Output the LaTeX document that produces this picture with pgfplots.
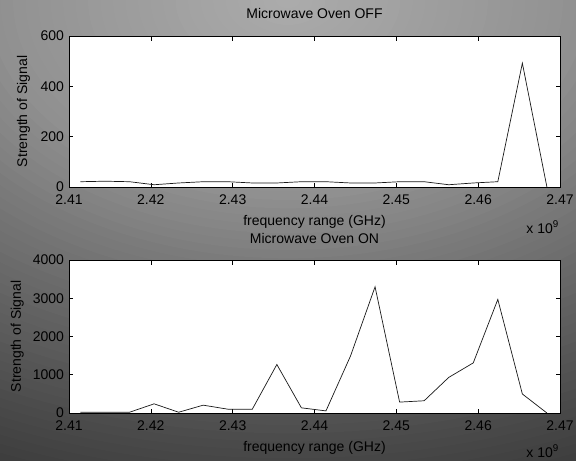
\documentclass[border=0pt]{standalone}
\usepackage{pgfplots}
\pgfplotsset{compat=1.18}
\usepackage{fontspec}
\setmainfont{Liberation Sans}
\newcommand{\lblfont}{\fontsize{14bp}{16bp}\selectfont}
\pgfplotsset{
  mystyle/.style={
    scale only axis,
    xmin=2.41, xmax=2.47,
    xtick={2.41,2.42,2.43,2.44,2.45,2.46,2.47},
    xticklabels={2.41,2.42,2.43,2.44,2.45,2.46,2.47},
    tick align=inside,
    major tick length=4.5bp,
    tick style={black, line width=0.6bp},
    axis line style={black, line width=0.9bp},
    axis background/.style={fill=white},
    ticklabel style={font=\lblfont},
    /pgf/number format/1000 sep={},
    /pgf/number format/assume math mode=true,
    scaled y ticks=false,
    xticklabel style={yshift=-4.5bp},
    yticklabel style={xshift=-1.5bp},
    label style={font=\lblfont},
    title style={font=\lblfont, at={(axis description cs:0.5,1)}, anchor=base},
    xlabel style={at={(axis description cs:0.5,0)}, anchor=base, yshift=-38bp},
    ylabel style={anchor=base},
    xlabel={frequency range (GHz)},
    ylabel={Strength of Signal},
    clip mode=individual,
  }
}
\begin{document}
\begin{tikzpicture}
\path[use as bounding box] (0bp,0bp) rectangle (576bp,-461bp);
\begin{scope}
\clip (0bp,0bp) rectangle (576bp,-461bp);
\fill[black!76] (0bp,0bp) rectangle (576bp,-461bp);
\foreach \i in {66,65,...,1}{
  \pgfmathsetmacro{\t}{\i/60}
  \pgfmathsetmacro{\g}{\t<0.39 ? 172-27*\t/0.39 : (\t<0.57 ? 145-27*(\t-0.39)/0.18 : (\t<0.93 ? 118-48*(\t-0.57)/0.36 : (\t<1 ? 70-8*(\t-0.93)/0.07 : 62)))}
  \pgfmathsetmacro{\gg}{\g/255}
  \definecolor{tmpbg}{gray}{\gg}
  \fill[tmpbg] (288bp,0bp) ellipse [x radius=\t*750bp, y radius=\t*500bp];
}
\end{scope}

\begin{axis}[mystyle,
  at={(69bp,-36bp)}, anchor=north west,
  width=491bp, height=151bp,
  ymin=0, ymax=600, ytick={0,200,400,600},
  title={Microwave Oven OFF},
  title style={yshift=12bp},
  ylabel style={at={(axis description cs:-0.0855,0.5)}},
]
\addplot[black!90, line width=0.7bp] table {
2.4114 21
2.4144 23
2.4174 21
2.4204 9
2.4234 16
2.4264 21
2.4294 21
2.4324 16
2.4354 16
2.4384 21
2.4414 21
2.4444 16
2.4474 16
2.4504 21
2.4534 21
2.4564 9
2.4594 16
2.4624 21
2.4654 492
2.4684 0
};
\node[anchor=base east, inner sep=0pt, font=\lblfont, xshift=-1bp, yshift=-46bp] at (rel axis cs:1,0) {x 10\textsuperscript{9}};
\end{axis}

\begin{axis}[mystyle,
  at={(69bp,-260bp)}, anchor=north west,
  width=491bp, height=153bp,
  ymin=0, ymax=4000, ytick={0,1000,2000,3000,4000},
  title={Microwave Oven ON},
  title style={yshift=11bp},
  ylabel style={at={(axis description cs:-0.0978,0.5)}},
]
\addplot[black!90, line width=0.7bp] table {
2.4114 20
2.4144 20
2.4174 20
2.4204 240
2.4234 20
2.4264 205
2.4294 100
2.4324 100
2.4354 1268
2.4384 135
2.4414 55
2.4444 1490
2.4474 3300
2.4504 285
2.4534 320
2.4564 930
2.4594 1310
2.4624 2970
2.4654 497
2.4684 0
};
\node[anchor=base east, inner sep=0pt, font=\lblfont, xshift=-1bp, yshift=-44bp] at (rel axis cs:1,0) {x 10\textsuperscript{9}};
\end{axis}
\end{tikzpicture}
\end{document}
